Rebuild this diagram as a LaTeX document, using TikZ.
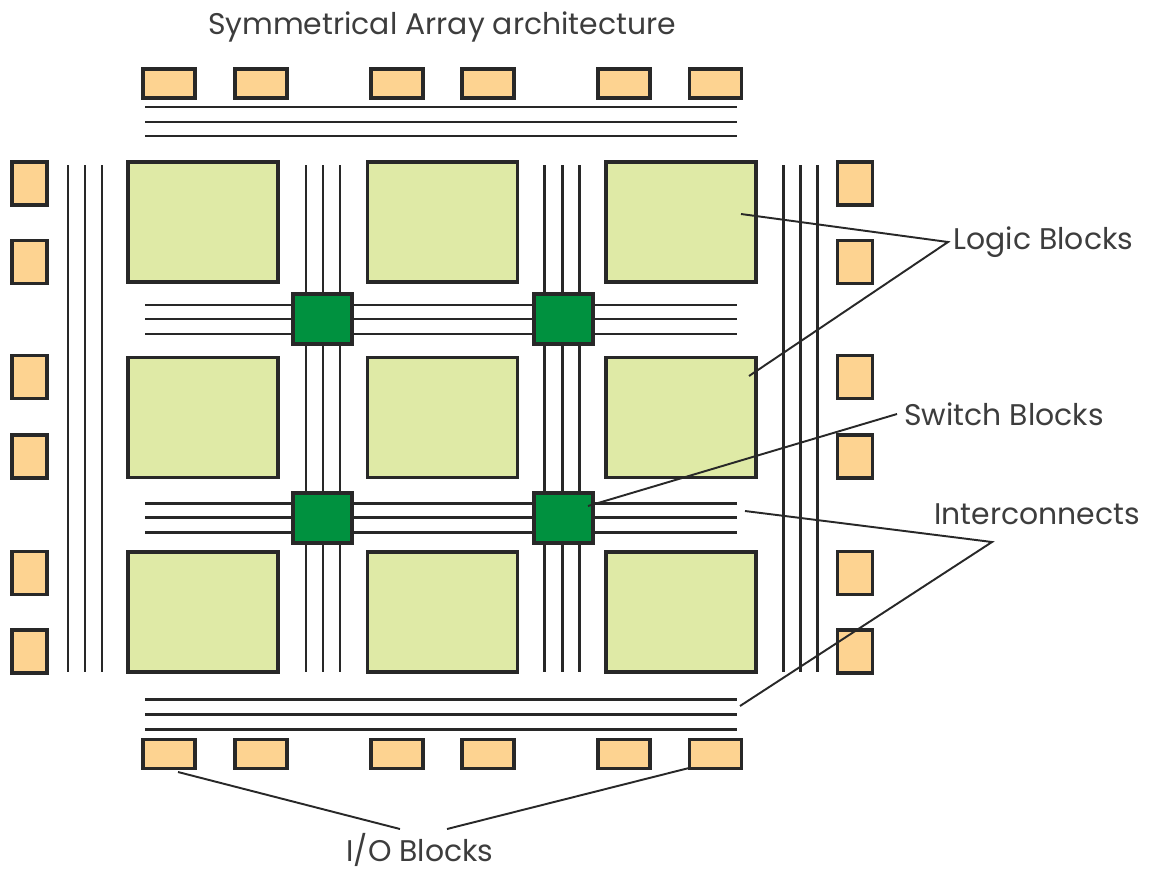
\documentclass[tikz,border=0pt]{standalone}
\usepackage{fontspec}
\setmainfont{Poppins}
\usetikzlibrary{positioning}
\definecolor{padfill}{RGB}{253,211,145}
\definecolor{logicfill}{RGB}{223,234,166}
\definecolor{switchfill}{RGB}{0,145,63}
\definecolor{ink}{RGB}{40,40,40}
\tikzset{
  blk/.style={draw=ink,line width=1.9pt,fill=#1,inner sep=0pt},
  io h/.style={blk=padfill,minimum width=1.04cm,minimum height=0.58cm},
  io v/.style={blk=padfill,minimum width=0.7cm,minimum height=0.86cm},
  logic blk/.style={blk=logicfill,minimum width=3cm,minimum height=2.4cm},
  switch blk/.style={blk=switchfill,minimum width=1.18cm,minimum height=1cm},
  track/.style={draw=ink,line width=1.7pt},
  lead/.style={draw=ink,line width=1.1pt},
  lbl/.style={font=\fontsize{17}{20}\selectfont,text=ink!90,inner sep=1pt},
}
\begin{document}
\begin{tikzpicture}[x=0.02cm,y=-0.02cm]
  \useasboundingbox (0,0) rectangle (1149,869);
  \node[lbl] (title) at (442,27) {Symmetrical Array architecture};
  % pads, top and bottom
  \foreach \i/\x in {1/169,2/261,3/397,4/488,5/624,6/715.5}{
    \node[io h] (iot\i) at (\x,83.5) {};
    \node[io h] (iob\i) at (\x,754) {};
  }
  % pads, left and right
  \foreach \i/\y in {1/183.5,2/262,3/377,4/456.5,5/573,6/651.5}{
    \node[io v] (iol\i) at (29.5,\y) {};
    \node[io v] (ior\i) at (855,\y) {};
  }
  % logic blocks
  \foreach \r/\y in {1/222,2/417.5,3/612}
    \foreach \c/\x in {1/203,2/442.5,3/681}
      \node[logic blk] (lb\r\c) at (\x,\y) {};
  % routing tracks
  \foreach \y in {107,122,136,305,319,334,503,517,532,699,714,729}
    \draw[track] (145,\y) -- (737,\y);
  \foreach \x in {68,85,102,306,323,340,544,562,579,783,800,817}
    \draw[track] (\x,165) -- (\x,672);
  % switch blocks
  \foreach \r/\y in {1/319,2/518}
    \foreach \c/\x in {1/322.5,2/563.5}
      \node[switch blk] (sw\r\c) at (\x,\y) {};
  % callouts
  \coordinate (lbtip) at (948,242);
  \node[lbl,right=2pt of lbtip] (lbtxt) {Logic Blocks};
  \coordinate (lbend1) at (741,214);
  \coordinate (lbend2) at (749,376);
  \draw[lead] (lbend1) -- (lbtip) -- (lbend2);

  \coordinate (swtip) at (897,414);
  \node[lbl,right=3pt of swtip] (swtxt) {Switch Blocks};
  \coordinate (swend) at (588,506);
  \draw[lead] (swend) -- (swtip);

  \node[lbl] (ictxt) at (1037,514) {Interconnects};
  \coordinate (ictip) at (992,542);
  \coordinate (icend1) at (745,511);
  \coordinate (icend2) at (740,706);
  \draw[lead] (icend1) -- (ictip) -- (icend2);

  \node[lbl,anchor=base,text depth=0pt] (iotxt) at (420,861) {I/O Blocks};
  \coordinate (iotip1) at (400,829);
  \coordinate (iotip2) at (447,829);
  \coordinate (ioend1) at (178,772);
  \coordinate (ioend2) at (689,768);
  \draw[lead] (ioend1) -- (iotip1);
  \draw[lead] (ioend2) -- (iotip2);
\end{tikzpicture}
\end{document}
